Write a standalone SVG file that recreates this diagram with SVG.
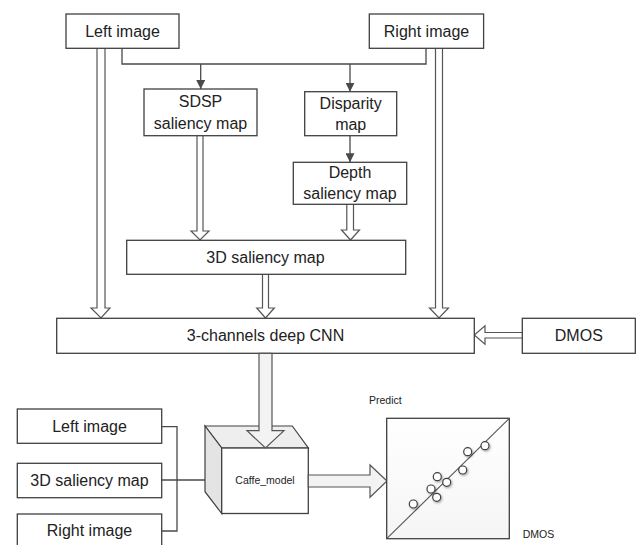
<svg xmlns="http://www.w3.org/2000/svg" width="638" height="545" viewBox="0 0 638 545">
  <defs>
    <marker id="tri" viewBox="0 0 10 10" refX="10" refY="5" markerWidth="9" markerHeight="9" markerUnits="userSpaceOnUse" orient="auto">
      <path d="M0,0 L10,5 L0,10 z" fill="#4a4a4a"/>
    </marker>
    <filter id="shadow" x="-50%" y="-50%" width="200%" height="200%">
      <feDropShadow dx="1" dy="1.2" stdDeviation="0.8" flood-color="#000" flood-opacity="0.35"/>
    </filter>
    <linearGradient id="plotFill" x1="0" y1="0" x2="0" y2="1">
      <stop offset="0" stop-color="#ffffff"/>
      <stop offset="1" stop-color="#f5f5f5"/>
    </linearGradient>
  </defs>
  <style>
    .box { fill: #ffffff; stroke: #404040; stroke-width: 1.3; }
    .lbl { font-family: "Liberation Sans", Arial, sans-serif; font-size: 16px; fill: #222222; text-anchor: middle; }
    .small { font-family: "Liberation Sans", Arial, sans-serif; font-size: 10.5px; fill: #222222; }
    .line { fill: none; stroke: #4a4a4a; stroke-width: 1.3; }
    .hollow { fill: #ffffff; stroke: #555555; stroke-width: 1.2; stroke-linejoin: miter; }
    .big { fill: #f3f3f3; stroke: #555555; stroke-width: 1.2; }
    .dot { fill: #ffffff; stroke: #404040; stroke-width: 1.2; }
  </style>

  <rect width="638" height="545" fill="#ffffff"/>

  <!-- connectors -->
  <g id="connectors">
    <!-- thin split lines from the image pair -->
    <polyline class="line" points="122,48 122,64 426,64 426,48"/>
    <line class="line" x1="200.7" y1="64" x2="200.7" y2="89" marker-end="url(#tri)"/>
    <line class="line" x1="350" y1="64" x2="350" y2="91.7" marker-end="url(#tri)"/>
    <line class="line" x1="350" y1="135.7" x2="350" y2="162.3" marker-end="url(#tri)"/>

    <!-- hollow block arrows -->
    <path class="hollow" d="M97,48 V308 H91 L101,318 L110,308 H105 V48"/>
    <path class="hollow" d="M435.5,48 V308 H429.5 L439,318 L448.5,308 H442.5 V48"/>
    <path class="hollow" d="M197,136 V231 H191 L200,240 L209,231 H203 V136"/>
    <path class="hollow" d="M346.8,204.3 V230 H341.5 L350.5,240 L359.5,230 H353.5 V204.3"/>
    <path class="hollow" d="M262.5,274.3 V308 H256.7 L265.5,318 L274.3,308 H268.5 V274.3"/>
    <path class="hollow" d="M522.3,332.5 H485 V325.7 L474.3,335 L485,344.3 V338 H522.3"/>

    <!-- bottom input bundle -->
    <polyline class="line" points="161.7,426.7 177,426.7 177,531 161.7,531"/>
    <line class="line" x1="161.7" y1="480" x2="221.5" y2="480" marker-end="url(#tri)"/>
  </g>

  <!-- nodes -->
  <g id="left-image">
    <rect class="box" x="66" y="14" width="113" height="34.3"/>
    <text class="lbl" x="122.5" y="36.7">Left image</text>
  </g>
  <g id="right-image">
    <rect class="box" x="369.3" y="14" width="114.3" height="34.3"/>
    <text class="lbl" x="426.5" y="36.7">Right image</text>
  </g>
  <g id="sdsp">
    <rect class="box" x="144" y="89" width="113" height="46.7"/>
    <text class="lbl" x="200.5" y="107.3">SDSP</text>
    <text class="lbl" x="200.5" y="129.3">saliency map</text>
  </g>
  <g id="disparity">
    <rect class="box" x="304.7" y="91.7" width="92" height="44"/>
    <text class="lbl" x="350.7" y="108.5">Disparity</text>
    <text class="lbl" x="350.7" y="130">map</text>
  </g>
  <g id="depth">
    <rect class="box" x="293.3" y="162.3" width="113.4" height="42"/>
    <text class="lbl" x="350" y="177.5">Depth</text>
    <text class="lbl" x="350" y="199">saliency map</text>
  </g>
  <g id="saliency-3d">
    <rect class="box" x="126.7" y="240.3" width="279" height="34"/>
    <text class="lbl" x="265.5" y="262.7">3D saliency map</text>
  </g>
  <g id="cnn">
    <rect class="box" x="56.7" y="318.3" width="417.6" height="35"/>
    <text class="lbl" x="265.5" y="340.5">3-channels deep CNN</text>
  </g>
  <g id="dmos">
    <rect class="box" x="522.3" y="318.3" width="113" height="35"/>
    <text class="lbl" x="578.8" y="340.5">DMOS</text>
  </g>

  <g id="left-image-in">
    <rect class="box" x="17.3" y="409" width="144.4" height="34.3"/>
    <text class="lbl" x="89.5" y="432.3">Left image</text>
  </g>
  <g id="saliency-in">
    <rect class="box" x="17.3" y="463.3" width="144.4" height="34.4"/>
    <text class="lbl" x="89.5" y="486">3D saliency map</text>
  </g>
  <g id="right-image-in">
    <rect class="box" x="17.3" y="514" width="144.4" height="40"/>
    <text class="lbl" x="89.5" y="535.7">Right image</text>
  </g>

  <g id="caffe-model">
    <polygon points="205,426 292.3,426 308.3,448 221.7,448" fill="#eeeeee" stroke="#404040" stroke-width="1.2"/>
    <polygon points="205,426 221.7,448 221.7,513.5 205,491.7" fill="#e4e4e4" stroke="#404040" stroke-width="1.2"/>
    <rect class="box" x="221.7" y="448" width="86.6" height="65.5"/>
    <text class="small" x="265" y="483.5" text-anchor="middle">Caffe_model</text>
  </g>

  <!-- wide block arrows -->
  <g id="block-arrows">
    <path class="big" d="M259,353.3 V430.7 H247 L265.5,448 L284,430.7 H272 V353.3 Z"/>
    <path class="big" d="M308.3,475 H370 V465 L387,481 L370,497.3 V487 H308.3 Z"/>
  </g>

  <g id="scatter-plot">
    <text class="small" x="369" y="404">Predict</text>
    <rect x="386.7" y="418.3" width="122.6" height="120.4" fill="url(#plotFill)" stroke="#404040" stroke-width="1.3"/>
    <line x1="386.7" y1="538.7" x2="509.3" y2="418.3" stroke="#555555" stroke-width="1.1"/>
    <g filter="url(#shadow)">
      <circle class="dot" cx="413.3" cy="504" r="4"/>
      <circle class="dot" cx="431" cy="489" r="4"/>
      <circle class="dot" cx="436.7" cy="497.3" r="4"/>
      <circle class="dot" cx="437.3" cy="476.7" r="4"/>
      <circle class="dot" cx="446.7" cy="482.3" r="4"/>
      <circle class="dot" cx="462.7" cy="470" r="4"/>
      <circle class="dot" cx="467.7" cy="451.7" r="4"/>
      <circle class="dot" cx="485" cy="445.7" r="4"/>
    </g>
    <text class="small" x="522.7" y="538.3">DMOS</text>
  </g>
</svg>
